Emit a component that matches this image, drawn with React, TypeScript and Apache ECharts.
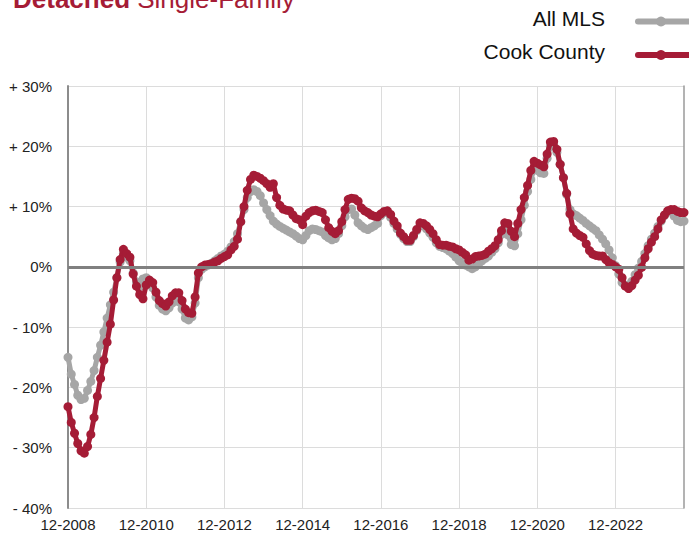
import React, { useEffect, useRef } from 'react';
import * as echarts from 'echarts';

const allMLS: number[] = [
  -15.0, -17.8, -19.5, -21.3, -22.0, -21.8, -20.5, -19.0, -17.2, -15.0,
  -13.0, -10.8, -8.5, -6.3, -4.2, -1.8, 0.8, 2.2, 1.6, 1.0,
  -1.0, -2.5, -3.3, -2.0, -1.8, -2.4, -3.5, -5.0, -6.4, -7.0,
  -7.3, -6.8, -6.0, -5.5, -5.8, -7.0, -8.5, -8.8, -8.3, -6.0,
  -1.8, -0.4, 0.0, 0.3, 0.6, 1.0, 1.4, 1.8, 2.1, 2.6,
  3.3, 4.2, 5.5, 7.5, 9.5, 11.5, 12.5, 12.8, 12.5, 11.8,
  10.6, 9.5, 8.5, 7.6, 7.1, 6.7, 6.4, 6.1, 5.8, 5.5,
  5.1, 4.7, 4.5, 5.2, 6.0, 6.3, 6.2, 6.0, 5.8, 5.2,
  4.8, 4.5, 4.7, 5.5, 6.8, 8.3, 9.5, 9.6, 8.6, 7.3,
  6.8, 6.4, 6.2, 6.5, 6.8, 7.2, 8.5, 9.0, 9.0, 8.2,
  7.2, 6.3, 5.4, 4.7, 4.2, 4.2, 5.0, 6.0, 6.8, 6.9,
  6.3, 5.6, 4.9, 4.0, 3.4, 3.2, 3.0, 2.6, 2.2, 1.6,
  1.0, 0.6, 0.3, 0.0, -0.3, 0.0, 0.5, 1.0, 1.4, 1.8,
  2.4, 3.0, 4.0, 5.4, 6.4, 5.3, 3.7, 3.5, 5.5, 7.8,
  10.2, 12.5, 14.5, 16.2, 16.0, 15.6, 15.5, 18.0, 20.0, 20.3,
  19.0, 17.0, 14.8, 12.0, 9.5, 8.8, 8.5, 8.1, 7.7, 7.2,
  6.8, 6.4, 6.0, 5.3, 4.6, 3.8, 2.8, 1.5, 0.2, -1.2,
  -2.6, -3.1, -3.0, -2.4, -1.3, -0.2, 0.9, 2.2, 3.5, 4.6,
  5.6, 6.7, 7.6, 8.5, 9.1, 9.3, 8.4, 7.7, 7.5, 7.6,
];

const cookCounty: number[] = [
  -23.2, -25.8, -27.6, -29.3, -30.5, -30.9, -29.8, -27.8, -25.0, -21.5,
  -18.5, -15.5, -12.5, -9.5, -5.5, -1.8, 1.2, 2.9, 2.2, 1.6,
  -1.2, -3.2, -4.6, -5.3, -3.0, -2.2, -2.6, -4.2, -5.6, -6.1,
  -6.5, -5.8, -4.8, -4.3, -4.3, -5.6, -7.0, -7.6, -7.7, -5.0,
  -1.0, 0.0, 0.3, 0.4, 0.5, 0.8, 1.0, 1.4, 1.7, 2.0,
  2.8, 3.4, 4.6, 7.5, 10.0, 12.7, 14.5, 15.2, 15.0, 14.7,
  14.3, 13.8, 13.2, 13.8, 11.5, 10.2, 9.6, 9.4, 9.3, 8.6,
  8.0, 7.8, 7.0, 8.4, 9.0, 9.3, 9.4, 9.2, 9.0, 7.8,
  6.5, 5.9, 5.5, 6.0, 7.5, 9.5, 11.2, 11.4, 11.3, 10.9,
  9.8, 9.3, 9.0, 8.6, 8.4, 8.3, 8.8, 9.2, 9.3, 8.7,
  7.6, 6.8, 5.6, 5.0, 4.4, 4.4, 5.2, 6.2, 7.3, 7.2,
  6.8, 6.2, 5.5, 4.5, 3.7, 3.6, 3.6, 3.4, 3.3, 3.0,
  2.8, 2.4, 2.0, 1.1, 1.3, 1.7, 1.8, 1.9, 2.1, 2.6,
  3.0, 3.5, 4.5, 6.0, 7.3, 7.2, 5.9, 5.0, 7.2, 9.5,
  11.5, 13.5, 16.0, 17.5, 17.2, 16.9, 16.6, 18.7, 20.7, 20.8,
  19.5, 17.0, 14.8, 12.2, 8.8, 6.3, 5.6, 5.2, 4.9, 3.8,
  2.7, 2.1, 1.9, 1.8, 1.8, 1.2, 0.7, 0.4, 0.0, -0.4,
  -1.8, -3.2, -3.6, -3.1, -2.2, -1.4, -0.1, 1.5, 3.0, 4.1,
  5.0, 6.3, 7.8, 8.6, 9.3, 9.5, 9.5, 9.2, 9.0, 9.0,
];

const startMonth = 12;
const startYear = 2008;
const categories: string[] = allMLS.map((_, i) => {
  const k = startMonth - 1 + i;
  const m = (k % 12) + 1;
  const y = startYear + Math.floor(k / 12);
  return `${String(m).padStart(2, '0')}-${y}`;
});

const seriesNames = ['All MLS', 'Cook County'];
const seriesColors = ['#a6a6a6', '#a51c36'];
const titleBold = 'Detached';
const titleRest = 'Single-Family';

const FONT = '"Liberation Sans", Arial, Helvetica, sans-serif';

export default function App() {
  const ref = useRef<HTMLDivElement>(null);
  useEffect(() => {
    const chart = echarts.init(ref.current!, null, { renderer: 'svg' });
    const yFmt = (v: number) => (v > 0 ? `+ ${v}%` : v < 0 ? `- ${Math.abs(v)}%` : '0%');
    const legendItem = (name: string, color: string, ty: number, ly: number) => [
      {
        type: 'text',
        x: 605,
        y: ty,
        style: { text: name, fill: '#111', font: `21px ${FONT}`, align: 'right', verticalAlign: 'middle' },
      },
      {
        type: 'line',
        shape: { x1: 638, y1: ly, x2: 700, y2: ly },
        style: { stroke: color, lineWidth: 6, lineCap: 'round' },
      },
      {
        type: 'circle',
        shape: { cx: 661, cy: ly, r: 5 },
        style: { fill: color },
      },
    ];
    chart.setOption({
      animation: false,
      textStyle: { fontFamily: FONT },
      grid: { left: 68, right: 5, top: 86, bottom: 27 },
      graphic: [
        {
          type: 'text',
          x: 13,
          y: -1,
          style: {
            text: `{b|${titleBold}}{r| ${titleRest}}`,
            verticalAlign: 'middle',
            rich: {
              b: { fontSize: 26, fontWeight: 'bold', fill: '#a51c36', fontFamily: FONT },
              r: { fontSize: 26, fill: '#a51c36', fontFamily: FONT },
            },
          },
        },
        ...legendItem(seriesNames[0], seriesColors[0], 18.5, 21.5),
        ...legendItem(seriesNames[1], seriesColors[1], 51.5, 55),
      ],
      xAxis: {
        type: 'category',
        data: categories,
        boundaryGap: false,
        axisLine: { show: false },
        axisTick: { show: false },
        axisLabel: { interval: 23, color: '#222', fontSize: 15, margin: 9, fontFamily: FONT },
        splitLine: { show: true, interval: 23, lineStyle: { color: '#dcdcdc', width: 1 } },
      },
      yAxis: [
        {
          type: 'value',
          min: -40,
          max: 30,
          interval: 10,
          axisLine: { show: true, lineStyle: { color: '#8c8c8c', width: 2 } },
          axisTick: { show: false },
          axisLabel: { formatter: yFmt, color: '#222', fontSize: 15, margin: 16, fontFamily: FONT },
          splitLine: { show: true, lineStyle: { color: '#dcdcdc', width: 1 } },
        },
        {
          type: 'value',
          position: 'right',
          min: -40,
          max: 30,
          interval: 10,
          axisLine: { show: true, lineStyle: { color: '#9a9a9a', width: 1.5 } },
          axisTick: { show: false },
          axisLabel: { show: false },
          splitLine: { show: false },
        },
      ],
      series: [
        {
          type: 'line',
          name: 'zero',
          data: [],
          z: 1,
          silent: true,
          markLine: {
            silent: true,
            symbol: 'none',
            label: { show: false },
            lineStyle: { color: '#808080', width: 3, type: 'solid' },
            data: [{ yAxis: 0 }],
          },
        },
        {
          type: 'line',
          name: seriesNames[0],
          data: allMLS,
          z: 2,
          symbol: 'circle',
          symbolSize: 9,
          showAllSymbol: true,
          lineStyle: { color: seriesColors[0], width: 5 },
          itemStyle: { color: seriesColors[0] },
        },
        {
          type: 'line',
          name: seriesNames[1],
          data: cookCounty,
          z: 3,
          symbol: 'circle',
          symbolSize: 9,
          showAllSymbol: true,
          lineStyle: { color: seriesColors[1], width: 5 },
          itemStyle: { color: seriesColors[1] },
        },
      ],
    });
    return () => chart.dispose();
  }, []);
  return <div ref={ref} style={{ width: 689, height: 535, position: 'absolute', left: 0, top: 0 }} />;
}
